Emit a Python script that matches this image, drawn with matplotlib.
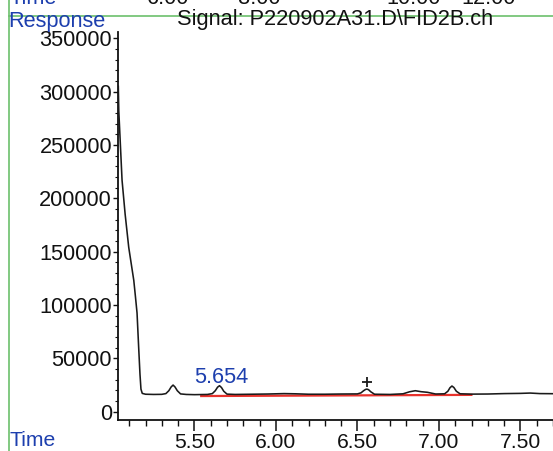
import numpy as np
import matplotlib
matplotlib.use("Agg")
import matplotlib.pyplot as plt
from matplotlib.ticker import MultipleLocator, StrMethodFormatter
from matplotlib.transforms import offset_copy
from matplotlib.lines import Line2D

plt.rcParams['font.family'] = ['Liberation Sans', 'DejaVu Sans']

# chromatogram trace (time in min, response)
time = [5.033, 5.036, 5.056, 5.075, 5.097, 5.115, 5.128, 5.138, 5.148, 5.158,
        5.166, 5.172, 5.18, 5.20, 5.25, 5.30, 5.325, 5.343, 5.357, 5.369,
        5.381, 5.395, 5.415, 5.45, 5.50, 5.58, 5.61, 5.628, 5.642, 5.654,
        5.666, 5.680, 5.70, 5.75, 5.85, 5.95, 6.05, 6.12, 6.20, 6.30,
        6.40, 6.50, 6.522, 6.538, 6.550, 6.558, 6.568, 6.582, 6.605, 6.70,
        6.78, 6.82, 6.855, 6.89, 6.93, 6.98, 7.035, 7.055, 7.068, 7.080,
        7.092, 7.107, 7.13, 7.20, 7.30, 7.40, 7.50, 7.56, 7.62, 7.70]
response = [305000, 282000, 217000, 185000, 154000, 136000, 123000, 108000, 92400, 60000,
            35000, 21000, 17000, 16200, 16000, 16100, 16800, 19500, 23000, 24800,
            23000, 19500, 16500, 16000, 15800, 16000, 16800, 19500, 22800, 24200,
            22500, 19000, 16300, 16000, 16200, 16400, 16800, 16600, 16200, 16200,
            16400, 16500, 17500, 19500, 20700, 21000, 20500, 18500, 16200, 16000,
            16600, 18500, 19500, 18600, 18000, 16400, 16600, 19000, 22300, 23900,
            22500, 19000, 16600, 16300, 16400, 16800, 17000, 17300, 16800, 16700]

# integration baseline (red)
base_t = [5.535, 7.206]
base_v = [14500, 15600]

peak_rt = 5.654
peak_resp = 24200
marked_rt = 6.558
marked_resp = 21000

y_ticks = [0, 50000, 100000, 150000, 200000, 250000, 300000, 350000]
top_labels = ["6.00", "8.00", "10.00", "12.00"]
top_label_x = [168, 259, 414, 489]

W, H = 553, 451
fig = plt.figure(figsize=(W / 100, H / 100), dpi=100)
fig.patch.set_facecolor('white')

ax = fig.add_axes([118.3 / W, (H - 420) / H, (W - 118.3) / W, 388 / H])
ax.set_facecolor('none')

blue = '#1d3fae'
fs = 15.7

ax.plot(base_t, base_v, color='#e8322c', lw=1.6, zorder=2, solid_capstyle='butt')
ax.plot(time, response, color='#1a1a1a', lw=1.15, zorder=3)

ax.annotate(f"{peak_rt:.3f}", xy=(peak_rt, peak_resp), xytext=(1, 2),
            textcoords='offset points', ha='center', va='baseline',
            color=blue, fontsize=fs)

plus_tr = offset_copy(ax.transData, fig=fig, x=0, y=5, units='points')
ax.plot([marked_rt], [marked_resp], marker='+', ms=7, mew=1.3, color='#1a1a1a',
        transform=plus_tr, zorder=4)

ax.set_xlim(5.033, 7.70)
ax.set_ylim(-7970, 356000)

ax.spines['top'].set_visible(False)
ax.spines['right'].set_visible(False)
for s in ('left', 'bottom'):
    ax.spines[s].set_linewidth(1.3)
    ax.spines[s].set_color('#111111')

ax.xaxis.set_major_locator(MultipleLocator(0.5))
ax.xaxis.set_minor_locator(MultipleLocator(0.1))
ax.xaxis.set_major_formatter(StrMethodFormatter('{x:.2f}'))
ax.set_yticks(y_ticks)
ax.yaxis.set_minor_locator(MultipleLocator(10000))
ax.yaxis.set_major_formatter(StrMethodFormatter('{x:.0f}'))

ax.tick_params(axis='x', which='major', length=8, width=1.1, pad=1,
               labelsize=15.2, colors='#111111')
ax.tick_params(axis='x', which='minor', length=4.5, width=1.0, colors='#111111')
ax.tick_params(axis='y', which='major', length=3.5, width=1.0, pad=1,
               labelsize=fs, colors='#111111')
ax.tick_params(axis='y', which='minor', length=2, width=0.8, colors='#111111')

# page decorations of the report
fig.text(335 / W, 1 - 20 / H, r"Signal: P220902A31.D\FID2B.ch", ha='center',
         va='center', fontsize=fs, color='#111111')
fig.text(8 / W, 1 - 27 / H, "Response", ha='left', va='baseline',
         fontsize=fs, color=blue)
fig.text(10 / W, 1 - 446 / H, "Time", ha='left', va='baseline',
         fontsize=15.2, color=blue)
# header row of the previous panel, only its lower edge shows
fig.text(10 / W, 1 - 4 / H, "Time", ha='left', va='baseline',
         fontsize=fs, color=blue)
for lab, xp in zip(top_labels, top_label_x):
    fig.text(xp / W, 1 - 4 / H, lab, ha='center', va='baseline',
             fontsize=fs, color='#111111')

green = '#6cc06c'
fig.add_artist(Line2D([9 / W, 1], [1 - 15.5 / H, 1 - 15.5 / H], color=green, lw=1.2))
fig.add_artist(Line2D([9 / W, 9 / W], [0, 1], color=green, lw=1.2))

fig.savefig('out.png', dpi=100)
